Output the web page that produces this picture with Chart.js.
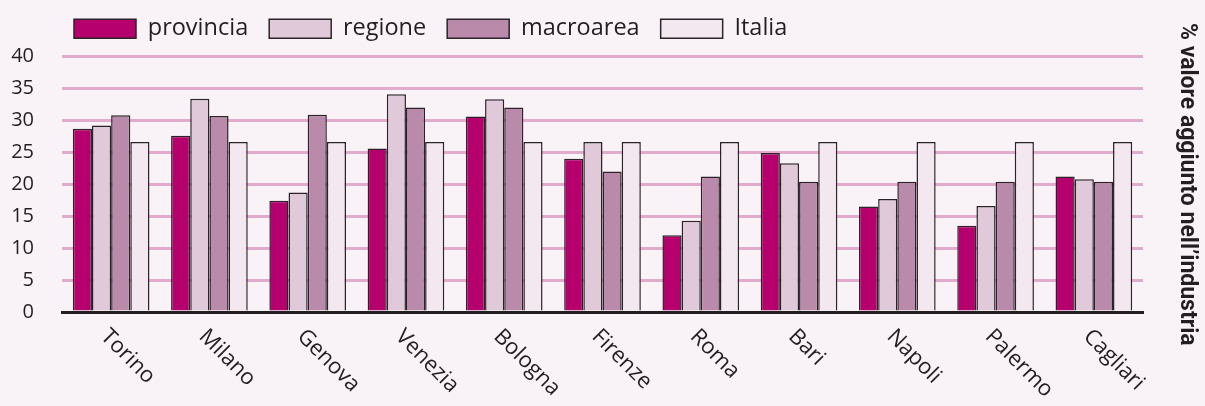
<!DOCTYPE html>
<html>
<head>
<meta charset="utf-8">
<script src="https://cdn.jsdelivr.net/npm/chart.js@4.4.1/dist/chart.umd.min.js"></script>
<style>
  html, body { margin: 0; padding: 0; background: #f9f3f7; }
  #wrap { width: 1205px; height: 406px; position: relative; }
</style>
</head>
<body>
<div id="wrap"><canvas id="chart"></canvas></div>
<script>
const cities = ['Torino', 'Milano', 'Genova', 'Venezia', 'Bologna', 'Firenze', 'Roma', 'Bari', 'Napoli', 'Palermo', 'Cagliari'];
const provincia = [28.7, 27.6, 17.4, 25.6, 30.6, 24.0, 12.0, 24.9, 16.5, 13.5, 21.2];
const regione   = [29.2, 33.4, 18.7, 34.1, 33.3, 26.6, 14.3, 23.3, 17.7, 16.6, 20.8];
const macroarea = [30.8, 30.7, 30.9, 32.0, 32.0, 22.0, 21.2, 20.4, 20.4, 20.4, 20.4];
const italia    = [26.6, 26.6, 26.6, 26.6, 26.6, 26.6, 26.6, 26.6, 26.6, 26.6, 26.6];
const yTicks = [0, 5, 10, 15, 20, 25, 30, 35, 40];

const ink = '#231f20';

// rotated category labels (text runs down to the right)
const slantLabels = {
  id: 'slantLabels',
  afterDraw(chart) {
    const { ctx, scales: { x } } = chart;
    ctx.save();
    ctx.font = '22px "Open Sans"';
    ctx.fillStyle = ink;
    ctx.textAlign = 'left';
    ctx.textBaseline = 'middle';
    cities.forEach((c, i) => {
      const px = x.getPixelForTick(i);
      ctx.save();
      ctx.translate(px - 7, x.top + 21);
      ctx.rotate(Math.PI / 4);
      ctx.fillText(c, 0, 0);
      ctx.restore();
    });
    ctx.restore();
  }
};

// nudge the legend: a bit more room below it, moved right/up
const legendNudge = {
  id: 'legendNudge',
  beforeLayout(chart) {
    const lg = chart.legend;
    if (lg && !lg._nudged) {
      const fit = lg.fit;
      lg.fit = function () { fit.call(this); this.height += 2; };
      lg._nudged = true;
    }
  },
  afterLayout(chart) {
    const lg = chart.legend;
    lg.left += 53; lg.right += 53;
    lg.top -= 4; lg.bottom -= 4;
  }
};

const mk = (label, data, color) => ({
  label, data,
  backgroundColor: color,
  borderColor: '#2b2327',
  borderWidth: 1.5,
  borderSkipped: 'bottom'
});

new Chart(document.getElementById('chart'), {
  type: 'bar',
  data: {
    labels: cities,
    datasets: [
      mk('provincia', provincia, '#b5006e'),
      mk('regione', regione, '#e0c9d9'),
      mk('macroarea', macroarea, '#b98aa9'),
      mk('Italia', italia, '#f3e7f0')
    ]
  },
  options: {
    responsive: true,
    maintainAspectRatio: false,
    animation: false,
    categoryPercentage: 0.78,
    barPercentage: 1,
    layout: { padding: 0 },
    plugins: {
      legend: {
        position: 'top',
        align: 'start',
        labels: {
          boxWidth: 62,
          boxHeight: 19,
          padding: 21,
          color: ink,
          font: { family: '"Open Sans"', size: 23.5 }
        }
      },
      tooltip: { enabled: false }
    },
    scales: {
      x: {
        grid: { display: false },
        border: { color: ink, width: 3 },
        ticks: { display: false },
        afterFit(s) { s.height = 94; }
      },
      y: {
        min: 0,
        max: 40,
        afterBuildTicks(s) { s.ticks = yTicks.map(v => ({ value: v })); },
        grid: { color: '#e2abcc', lineWidth: 3, drawTicks: false },
        border: { display: false },
        ticks: {
          padding: 28,
          color: ink,
          font: { family: '"Open Sans"', size: 20 }
        },
        afterFit(s) { s.width = 62; }
      },
      yr: {
        position: 'right',
        min: 0,
        max: 40,
        grid: { display: false, drawOnChartArea: false },
        border: { display: false },
        ticks: { display: false },
        title: {
          display: true,
          text: '% valore aggiunto nell’industria',
          color: ink,
          font: { family: 'Roboto', size: 23, weight: 'bold' }
        },
        afterFit(s) { s.width = 62; }
      }
    }
  },
  plugins: [slantLabels, legendNudge]
});
</script>
</body>
</html>
